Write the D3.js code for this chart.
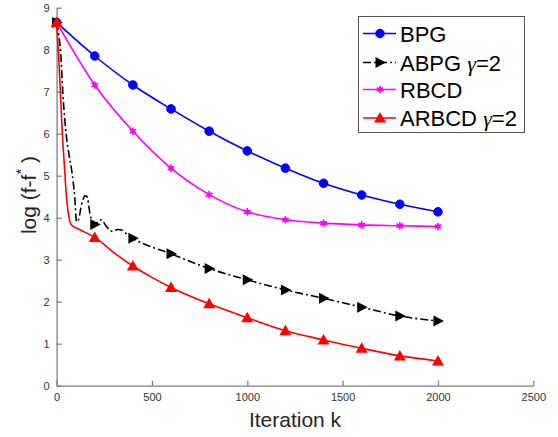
<!DOCTYPE html>
<html>
<head>
<meta charset="utf-8">
<script src="https://cdn.jsdelivr.net/npm/d3@7"></script>
<style>
body { margin: 0; background: #fff; }
text { font-family: "Liberation Sans", Arial, sans-serif; }
</style>
</head>
<body>
<div id="graph"></div>
<script>
// series data (iteration k, log(f-f*))
const bpgK = [0, 200, 400, 600, 800, 1000, 1200, 1400, 1600, 1800, 2000];
const bpgV = [8.65, 7.85, 7.16, 6.59, 6.06, 5.59, 5.18, 4.82, 4.54, 4.32, 4.14];

const rbcdK = [0, 200, 400, 600, 800, 1000, 1200, 1400, 1600, 1800, 2000];
const rbcdV = [8.65, 7.16, 6.06, 5.18, 4.55, 4.14, 3.95, 3.87, 3.83, 3.81, 3.79];

const abpgK = [0, 10, 20, 35, 50, 65, 80, 95, 105, 115, 130, 150, 160, 175, 190, 200, 215, 235, 260, 295, 320, 345, 370, 400,
               600, 800, 1000, 1200, 1400, 1600, 1800, 2000];
const abpgV = [8.65, 8.4, 8.0, 6.8, 6.0, 5.5, 5.1, 4.5, 3.9, 3.95, 4.3, 4.52, 4.5, 4.1, 3.87, 3.84, 3.9, 3.95, 3.8, 3.67, 3.72, 3.7, 3.6, 3.51,
               3.14, 2.79, 2.52, 2.28, 2.08, 1.87, 1.66, 1.54];

const arbcdK = [0, 10, 20, 30, 40, 50, 60, 70, 80, 120, 200, 300, 400, 500, 600, 800, 1000, 1200, 1400, 1600, 1800, 2000];
const arbcdV = [8.65, 7.9, 7.0, 6.0, 5.3, 4.6, 4.15, 3.9, 3.82, 3.72, 3.53, 3.17, 2.85, 2.58, 2.34, 1.95, 1.62, 1.31, 1.09, 0.89, 0.71, 0.59];

const markerK = [0, 200, 400, 600, 800, 1000, 1200, 1400, 1600, 1800, 2000];

const xTicks = [0, 500, 1000, 1500, 2000, 2500];
const yTicks = [0, 1, 2, 3, 4, 5, 6, 7, 8, 9];

const w = 558, h = 437;
const svg = d3.select("#graph").append("svg").attr("width", w).attr("height", h);

const xScale = d3.scaleLinear().domain([0, 2500]).range([56.6, 533.3]);
const yScale = d3.scaleLinear().domain([0, 9]).range([385.7, 7.7]);

// axes (MATLAB style, ticks pointing inward)
const axisCol = "#808080";
const xAxis = d3.axisBottom(xScale).tickValues(xTicks).tickFormat(d3.format("d"))
  .tickSizeInner(-5).tickSizeOuter(0).tickPadding(8);
const yAxis = d3.axisLeft(yScale).tickValues(yTicks).tickFormat(d3.format("d"))
  .tickSizeInner(-5).tickSizeOuter(0).tickPadding(7);

const gx = svg.append("g").attr("transform", "translate(0," + yScale(0) + ")").call(xAxis);
const gy = svg.append("g").attr("transform", "translate(" + xScale(0) + ",0)").call(yAxis);
[gx, gy].forEach(g => {
  g.select(".domain").attr("stroke", axisCol).attr("stroke-width", 1.3);
  g.selectAll(".tick line").attr("stroke", axisCol).attr("stroke-width", 1.3);
  g.selectAll(".tick text").attr("fill", "#333").attr("font-size", 11)
    .attr("font-family", "Liberation Sans, Arial, sans-serif");
});

// axis labels
svg.append("text").attr("x", 295).attr("y", 427).attr("text-anchor", "middle")
  .attr("font-size", 21).attr("fill", "#262626").text("Iteration k");
const yl = svg.append("text").attr("transform", "translate(36,195) rotate(-90)")
  .attr("text-anchor", "middle").attr("font-size", 21).attr("fill", "#262626");
yl.append("tspan").text("log (f-f");
yl.append("tspan").attr("dy", -10).attr("font-size", 15).text("*");
yl.append("tspan").attr("dy", 10).text(" )");

const line = d3.line().x(d => xScale(d[0])).y(d => yScale(d[1])).curve(d3.curveMonotoneX);

const series = [
  {name: "BPG", k: bpgK, v: bpgV, col: "#0000ff", dash: null, marker: "circle"},
  {name: "RBCD", k: rbcdK, v: rbcdV, col: "#ff00ff", dash: null, marker: "star"},
  {name: "ABPG", k: abpgK, v: abpgV, col: "#000000", dash: "8,3,2,3", marker: "right"},
  {name: "ARBCD", k: arbcdK, v: arbcdV, col: "#ff0000", dash: null, marker: "up"}
];

function drawMarker(g, type, col) {
  if (type === "circle") {
    g.append("circle").attr("r", 4.3).attr("fill", col).attr("stroke", col);
  } else if (type === "star") {
    g.append("path").attr("d", d3.symbol(d3.symbolAsterisk, 40)()).attr("stroke", col).attr("stroke-width", 1.6).attr("fill", "none");
    g.append("circle").attr("r", 2.2).attr("fill", col);
  } else if (type === "right") {
    g.append("path").attr("d", "M-4.5,-5.5L6,0L-4.5,5.5Z").attr("fill", col);
  } else if (type === "up") {
    g.append("path").attr("d", "M0,-6L6,4.5L-6,4.5Z").attr("fill", col);
  }
}

series.forEach(s => {
  const pts = s.k.map((k, i) => [k, s.v[i]]);
  svg.append("path").attr("d", line(pts)).attr("fill", "none")
    .attr("stroke", s.col).attr("stroke-width", 1.6)
    .attr("stroke-dasharray", s.dash);
});
// markers drawn last so they sit on top
series.forEach(s => {
  s.k.forEach((k, i) => {
    if (markerK.indexOf(k) < 0) return;
    const g = svg.append("g").attr("transform", "translate(" + xScale(k) + "," + yScale(s.v[i]) + ")");
    drawMarker(g, s.marker, s.col);
  });
});

// legend
const legend = svg.append("g");
legend.append("rect").attr("x", 358.5).attr("y", 16.5).attr("width", 166).attr("height", 116)
  .attr("fill", "#fff").attr("stroke", "#555").attr("stroke-width", 1);
const legItems = [
  {label: "BPG", gamma: false, col: "#0000ff", dash: null, marker: "circle"},
  {label: "ABPG", gamma: true, col: "#000000", dash: "8,3,2,3", marker: "right"},
  {label: "RBCD", gamma: false, col: "#ff00ff", dash: null, marker: "star"},
  {label: "ARBCD", gamma: true, col: "#ff0000", dash: null, marker: "up"}
];
const legY = [33.5, 62.5, 89.5, 118];
legItems.forEach((d, i) => {
  const y = legY[i];
  legend.append("line").attr("x1", 363).attr("x2", 396).attr("y1", y).attr("y2", y)
    .attr("stroke", d.col).attr("stroke-width", 1.6).attr("stroke-dasharray", d.dash);
  const g = legend.append("g").attr("transform", "translate(380," + y + ")");
  drawMarker(g, d.marker, d.col);
  const t = legend.append("text").attr("x", 400).attr("y", y + 8).attr("font-size", 22).attr("fill", "#000");
  t.append("tspan").text(d.label);
  if (d.gamma) {
    t.append("tspan").text(" ");
    t.append("tspan").attr("font-style", "italic").attr("font-family", "Liberation Serif, serif").attr("font-size", 22).text("γ");
    t.append("tspan").text("=2");
  }
});
</script>
</body>
</html>
